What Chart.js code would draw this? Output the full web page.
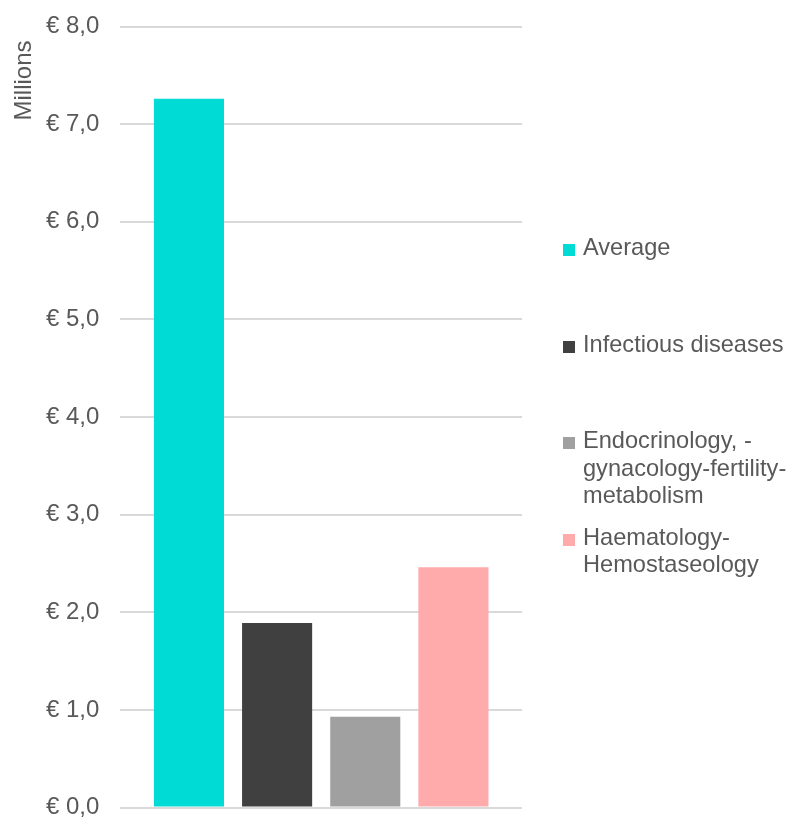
<!DOCTYPE html>
<html>
<head>
<meta charset="utf-8">
<script src="https://cdn.jsdelivr.net/npm/chart.js@4"></script>
<style>
  html, body { margin: 0; padding: 0; background: #ffffff; }
  #wrap { position: relative; width: 790px; height: 819px; }
  #chart { position: absolute; left: 0; top: 0; }
  #legend {
    position: absolute; left: 563px; top: 234px;
    font-family: "Liberation Sans", Arial, sans-serif;
    font-size: 23.6px; line-height: 27.5px; color: #595959;
  }
  .item { position: relative; height: 96.5px; padding-left: 20px; white-space: nowrap; }
  .swatch { position: absolute; left: 0; top: 10px; width: 12px; height: 12px; }
</style>
</head>
<body>
<div id="wrap">
  <canvas id="chart" width="790" height="819"></canvas>
  <div id="legend"></div>
</div>
<script>
// Cost per therapeutic area, in millions of euros
const seriesNames = [
  'Average',
  'Infectious diseases',
  'Endocrinology, -\ngynacology-fertility-\nmetabolism',
  'Haematology-\nHemostaseology'
];
const seriesValues = [7.26, 1.89, 0.93, 2.46];
const seriesColors = ['#00DBD6', '#404040', '#A0A0A0', '#FFAAAB'];
const axisTitle = 'Millions';
const yMin = 0, yMax = 8, yStep = 1;

const textColor = '#595959';
const fontFamily = '"Liberation Sans", Arial, sans-serif';

const datasets = seriesNames.map((name, i) => ({
  label: name,
  data: [seriesValues[i]],
  backgroundColor: seriesColors[i],
  borderWidth: 0,
  categoryPercentage: 0.878,
  barPercentage: 0.795
}));

// Rotated axis title drawn near the top of the value axis
const axisTitlePlugin = {
  id: 'axisTitle',
  afterDraw(chart) {
    const ctx = chart.ctx;
    const top = chart.chartArea.top;
    ctx.save();
    ctx.translate(31, top + 54);
    ctx.rotate(-Math.PI / 2);
    ctx.font = '24px ' + fontFamily;
    ctx.fillStyle = textColor;
    ctx.textAlign = 'center';
    ctx.textBaseline = 'alphabetic';
    ctx.fillText(axisTitle, 0, 0);
    ctx.restore();
  }
};

new Chart(document.getElementById('chart'), {
  type: 'bar',
  data: { labels: [''], datasets },
  options: {
    responsive: false,
    animation: false,
    layout: { padding: { left: 25, right: 268, top: 26.5, bottom: 11.5 } },
    plugins: { legend: { display: false }, tooltip: { enabled: false } },
    scales: {
      x: { display: false },
      y: {
        min: yMin, max: yMax,
        border: { display: false },
        grid: { color: '#D9D9D9', lineWidth: 2, drawTicks: false },
        ticks: {
          stepSize: yStep,
          padding: 21,
          color: textColor,
          font: { family: fontFamily, size: 24 },
          callback: v => '€ ' + Number(v).toFixed(1).replace('.', ',')
        },
        // the edge labels may overhang the plot; the layout padding covers them
        afterFit(scale) {
          scale.paddingTop = 0;
          scale.paddingBottom = 0;
        }
      }
    }
  },
  plugins: [axisTitlePlugin]
});

// Legend built from the same series arrays
const legend = document.getElementById('legend');
seriesNames.forEach((name, i) => {
  const item = document.createElement('div');
  item.className = 'item';
  const sw = document.createElement('span');
  sw.className = 'swatch';
  sw.style.background = seriesColors[i];
  item.appendChild(sw);
  name.split('\n').forEach(line => {
    const d = document.createElement('div');
    d.textContent = line;
    item.appendChild(d);
  });
  legend.appendChild(item);
});
</script>
</body>
</html>
